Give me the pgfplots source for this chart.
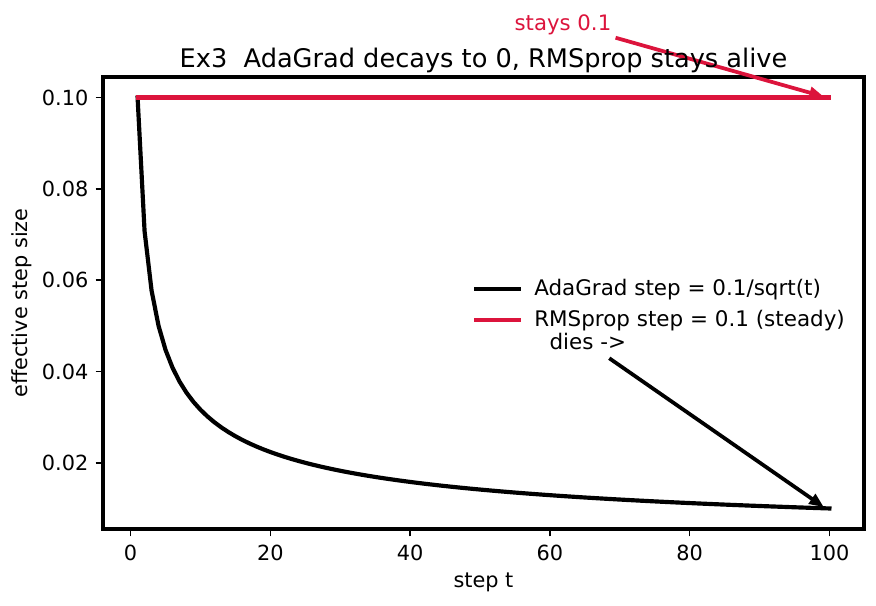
\documentclass[border=0pt]{standalone}
\usepackage{pgfplots}
\pgfplotsset{compat=1.18}
\usepackage{fontspec}
\setmainfont{DejaVu Sans}
\usetikzlibrary{arrows.meta}
\definecolor{crim}{RGB}{220,20,60}
\begin{document}
\begin{tikzpicture}
\useasboundingbox (-49.44bp,-36.96bp) rectangle (371.04bp,253.92bp);
\begin{axis}[
  at={(0,0)}, anchor=south west,
  scale only axis, width=365.28bp, height=216.96bp,
  xmin=-3.95, xmax=104.95, ymin=0.0055, ymax=0.1045,
  axis line style={line width=2.1bp},
  tick style={line width=0.8bp, black},
  tick align=outside, major tick length=3.5bp,
  xtick={0,20,40,60,80,100},
  ytick={0.02,0.04,0.06,0.08,0.10},
  yticklabels={0.02,0.04,0.06,0.08,0.10},
  /pgf/number format/assume math mode=true,
  ticklabel style={font=\fontsize{10bp}{12bp}\selectfont},
  xticklabel style={yshift=-0.5bp},
  xtick pos=bottom, ytick pos=left,
  xlabel={step t}, ylabel={effective step size},
  xlabel style={at={(axis description cs:0.5,-0.1175)}, anchor=center, font=\fontsize{10bp}{12bp}\selectfont},
  ylabel style={at={(axis description cs:-0.1065,0.5)}, anchor=center, rotate=0, font=\fontsize{10bp}{12bp}\selectfont},
  title={Ex3\ \ AdaGrad decays to 0, RMSprop stays alive},
  title style={at={(axis description cs:0.5,1.0442)}, anchor=center, yshift=-7.6bp, font=\fontsize{12.3bp}{14bp}\selectfont},
  clip=false,
  legend style={draw=none, fill=none, at={(axis description cs:1,0.5)}, anchor=east, xshift=-5bp, yshift=-0.8bp,
    font=\fontsize{10.3bp}{12bp}\selectfont, row sep=1.4bp, inner sep=2bp},
  legend cell align=left,
  legend image code/.code={\draw[#1, line width=2bp] (0bp,0bp) -- (20.6bp,0bp);\path[draw=none] (0bp,0bp) -- (26bp,0bp);},
]
\addplot[black, line width=2bp, line cap=rect] table {
x y
1 0.1
2 0.070711
3 0.057735
4 0.05
5 0.044721
6 0.040825
7 0.037796
8 0.035355
9 0.033333
10 0.031623
11 0.030151
12 0.028868
13 0.027735
14 0.026726
15 0.025820
16 0.025
17 0.024254
18 0.023570
19 0.022942
20 0.022361
21 0.021822
22 0.021320
23 0.020851
24 0.020412
25 0.02
26 0.019612
27 0.019245
28 0.018898
29 0.018570
30 0.018257
31 0.017961
32 0.017678
33 0.017408
34 0.017150
35 0.016903
36 0.016667
37 0.016440
38 0.016222
39 0.016013
40 0.015811
41 0.015617
42 0.015430
43 0.015250
44 0.015076
45 0.014907
46 0.014744
47 0.014586
48 0.014434
49 0.014286
50 0.014142
51 0.014003
52 0.013868
53 0.013736
54 0.013608
55 0.013484
56 0.013363
57 0.013245
58 0.013131
59 0.013019
60 0.012910
61 0.012804
62 0.012700
63 0.012599
64 0.0125
65 0.012403
66 0.012309
67 0.012217
68 0.012127
69 0.012039
70 0.011952
71 0.011868
72 0.011785
73 0.011704
74 0.011625
75 0.011547
76 0.011471
77 0.011396
78 0.011323
79 0.011251
80 0.011180
81 0.011111
82 0.011043
83 0.010976
84 0.010911
85 0.010847
86 0.010783
87 0.010721
88 0.010660
89 0.010600
90 0.010541
91 0.010483
92 0.010426
93 0.010370
94 0.010314
95 0.010260
96 0.010206
97 0.010153
98 0.010102
99 0.010050
100 0.01
};
\addlegendentry{AdaGrad step = 0.1/sqrt(t)}
\addplot[crim, line width=2bp, line cap=rect] table {
x y
1 0.1
100 0.1
};
\addlegendentry{RMSprop step = 0.1 (steady)}
\node[crim, anchor=base west, inner sep=0pt, font=\fontsize{10.2bp}{12bp}\selectfont] at (axis cs:54.9,0.1147) {stays 0.1};
\draw[crim, line width=1.8bp, -{Stealth[length=7bp, width=5.5bp, inset=0pt]}] (axis cs:69.4,0.1131) -- (axis cs:99.2,0.1002);
\node[black, anchor=base west, inner sep=0pt, font=\fontsize{10.3bp}{12bp}\selectfont] at (axis cs:59.9,0.0449) {dies ->};
\draw[black, line width=1.8bp, -{Stealth[length=7bp, width=5.5bp, inset=0pt]}] (axis cs:68.5,0.0429) -- (axis cs:99.2,0.0103);
\end{axis}
\end{tikzpicture}
\end{document}
